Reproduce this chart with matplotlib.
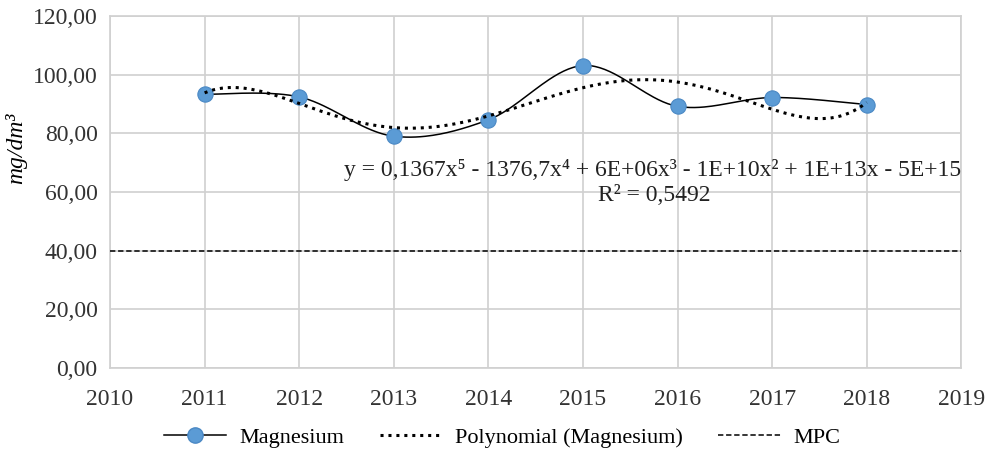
import numpy as np
import matplotlib
matplotlib.use("Agg")
from matplotlib import pyplot as plt
from matplotlib.ticker import FuncFormatter

years = [2011, 2012, 2013, 2014, 2015, 2016, 2017, 2018]
magnesium = [93.3, 92.4, 79.0, 84.6, 103.1, 89.2, 92.2, 89.8]
mpc_years = [2010, 2019]
mpc = [40, 40]
equation = "y = 0,1367x\u2075 - 1376,7x\u2074 + 6E+06x\u00b3 - 1E+10x\u00b2 + 1E+13x - 5E+15"
r2_text = "R\u00b2 = 0,5492"

plt.rcParams['font.family'] = ['Liberation Serif', 'DejaVu Serif']


def smooth(x, y, n=40):
    # catmull-rom style smoothing like the spreadsheet's "smoothed line"
    x = np.asarray(x, float)
    y = np.asarray(y, float)
    px = np.concatenate([[x[0]], x, [x[-1]]])
    py = np.concatenate([[y[0]], y, [y[-1]]])
    xs, ys = [], []
    t = np.linspace(0, 1, n)
    for i in range(1, len(px) - 2):
        p0, p1, p2, p3 = [np.array([px[j], py[j]]) for j in range(i - 1, i + 3)]
        c1 = p1 + (p2 - p0) / 6
        c2 = p2 - (p3 - p1) / 6
        b = ((1 - t) ** 3)[:, None] * p1 + (3 * (1 - t) ** 2 * t)[:, None] * c1 \
            + (3 * (1 - t) * t ** 2)[:, None] * c2 + (t ** 3)[:, None] * p2
        xs.extend(b[:, 0])
        ys.extend(b[:, 1])
    return np.array(xs), np.array(ys)


fig = plt.figure(figsize=(9.85, 4.57), dpi=100)
ax = fig.add_axes([0.1117, 0.195, 0.8643, 0.770])

# trend line (degree 5 fit of the data)
xc = np.array(years) - 2014.5
coef = np.polyfit(xc, magnesium, 5)
xt = np.linspace(2011, 2018, 300)
yt = np.polyval(coef, xt - 2014.5)

sx, sy = smooth(years, magnesium)
ax.plot(sx, sy, color='black', lw=1.1, zorder=3)
ax.plot(years, magnesium, 'o', color='#5B9BD5', ms=11, mec='#4A88C4', mew=0.8, zorder=4)
ax.plot(xt, yt, color='black', lw=2.2, ls=(0, (1, 1.6)), zorder=5)
ax.plot(mpc_years, mpc, color='black', lw=1.1, ls=(0, (3.5, 1.8)), zorder=3)

ax.set_xlim(2010, 2019)
ax.set_ylim(0, 120)
ax.set_xticks(range(2010, 2020))
ax.set_yticks(range(0, 121, 20))
ax.yaxis.set_major_formatter(FuncFormatter(lambda v, p: ("%.2f" % v).replace('.', ',')))
ax.grid(True, color='#d0d0d0', lw=1.2)
ax.set_axisbelow(True)
for s in ax.spines.values():
    s.set_color('#d0d0d0')
    s.set_linewidth(1.2)
ax.tick_params(length=0, labelsize=17, colors='#333333')
ax.tick_params(axis='x', pad=15.5)
ax.tick_params(axis='y', pad=9)
ax.set_ylabel('mg/dm\u00b3', fontsize=17, style='italic')
ax.yaxis.set_label_coords(-0.097, 0.624)

ax.text(2012.47, 67.5, equation, fontsize=17, ha='left', va='center', color='#222222')
ax.text(2015.75, 58.8, r2_text, fontsize=17, ha='center', va='center', color='#222222')

h1, = ax.plot([], [], '-o', color='black', mfc='#5B9BD5', mec='#4A88C4', ms=11, lw=1.1)
h2, = ax.plot([], [], color='black', lw=2.2, ls=(0, (1, 1.6)))
h3, = ax.plot([], [], color='black', lw=1.1, ls=(0, (3.5, 1.8)))
fig.legend([h1, h2, h3], ['Magnesium', 'Polynomial (Magnesium)', 'MPC'],
           loc='center', bbox_to_anchor=(0.51, 0.042), ncol=3, frameon=False,
           fontsize=16, handlelength=2.8, columnspacing=1.6, handletextpad=0.59)

fig.savefig('out.png', dpi=100)
